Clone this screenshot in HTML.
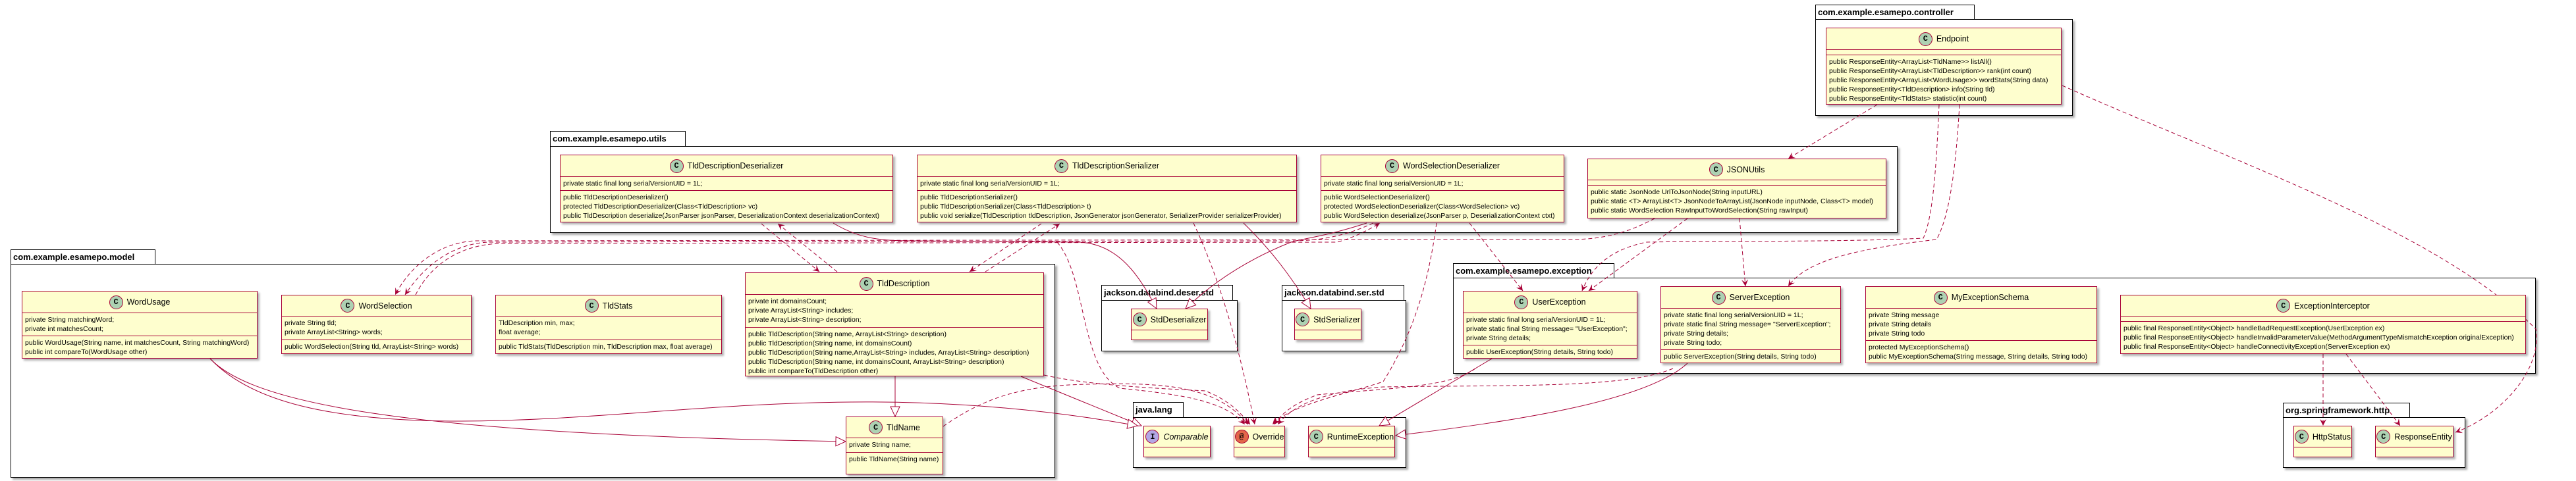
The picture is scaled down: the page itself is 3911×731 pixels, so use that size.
<!DOCTYPE html>
<html><head><meta charset="utf-8"><style>
*{margin:0;padding:0;box-sizing:border-box}
body{width:3911px;height:731px;background:#fff;position:relative;overflow:hidden;font-family:"Liberation Sans",sans-serif}
.pt{position:absolute;border:1.5px solid #000;border-bottom:none;background:#fff;font-weight:bold;font-size:13px;padding:3px 4px 0 3px;white-space:nowrap;z-index:1}
.pb{position:absolute;border:1.5px solid #000;background:#fff;box-shadow:3px 3px 3px rgba(0,0,0,.35);z-index:1}
svg{position:absolute;left:0;top:0;z-index:2}
.c{position:absolute;background:#FEFECE;border:1.5px solid #A80036;box-shadow:3px 3px 3px rgba(0,0,0,.3);z-index:3;font-size:10.5px;color:#000}
.h{display:flex;align-items:center;justify-content:center;border-bottom:1.5px solid #A80036;font-size:12.5px;white-space:nowrap}
.h i{display:inline-flex;width:21px;height:21px;border-radius:50%;background:#ADD1B2;border:1px solid #A80036;align-items:center;justify-content:center;font-style:normal;font-weight:bold;font-size:12px;margin-right:6px;font-family:"Liberation Mono",monospace}
.s{border-bottom:1.5px solid #A80036;padding:3px 4px;white-space:nowrap;line-height:14px}
.s:last-child{border-bottom:none}
</style></head><body>

<!-- packages -->
<div class="pt" style="left:2756px;top:7px;width:242px;height:23px">com.example.esamepo.controller</div>
<div class="pb" style="left:2756px;top:29px;width:391px;height:147px"></div>

<div class="pt" style="left:835px;top:199px;width:206px;height:24px">com.example.esamepo.utils</div>
<div class="pb" style="left:835px;top:222px;width:2046px;height:132px"></div>

<div class="pt" style="left:16px;top:379px;width:220px;height:23px">com.example.esamepo.model</div>
<div class="pb" style="left:16px;top:401px;width:1586px;height:325px"></div>

<div class="pt" style="left:1672px;top:433px;width:200px;height:24px">jackson.databind.deser.std</div>
<div class="pb" style="left:1672px;top:456px;width:207px;height:78px"></div>

<div class="pt" style="left:1946px;top:433px;width:186px;height:24px">jackson.databind.ser.std</div>
<div class="pb" style="left:1946px;top:456px;width:189px;height:78px"></div>

<div class="pt" style="left:1720px;top:611px;width:77px;height:24px">java.lang</div>
<div class="pb" style="left:1720px;top:634px;width:415px;height:77px"></div>

<div class="pt" style="left:2206px;top:400px;width:245px;height:23px">com.example.esamepo.exception</div>
<div class="pb" style="left:2206px;top:422px;width:1644px;height:146px"></div>

<div class="pt" style="left:3466px;top:612px;width:193px;height:23px">org.springframework.http</div>
<div class="pb" style="left:3466px;top:634px;width:277px;height:77px"></div>

<!-- edges -->
<svg width="3911" height="731" viewBox="0 0 3911 731">
<defs>
<marker id="a" markerWidth="12" markerHeight="12" refX="10" refY="6" orient="auto" markerUnits="userSpaceOnUse"><path d="M0,1 L10,6 L0,11 L4,6 Z" fill="#A80036"/></marker>
<marker id="t" markerWidth="18" markerHeight="16" refX="16" refY="8" orient="auto" markerUnits="userSpaceOnUse"><path d="M1,1 L16,8 L1,15 Z" fill="#fff" stroke="#A80036" stroke-width="1"/></marker>
</defs>
<g fill="none" stroke="#A80036" stroke-width="1">
<!-- solid extends -->
<path d="M1265,339 C1300,360 1330,366 1380,366 L1640,368 C1700,372 1730,420 1756,469" marker-end="url(#t)"/>
<path d="M1888,339 C1930,380 1960,420 1990,469" marker-end="url(#t)"/>
<path d="M2075,339 C2010,360 1980,362 1960,368 C1880,400 1830,440 1800,469" marker-end="url(#t)"/>
<path d="M1359,572 L1359,633" marker-end="url(#t)"/>
<path d="M1550,572 L1733,647" marker-end="url(#t)"/>
<path d="M319,545 C380,610 500,640 700,640 C1000,640 1300,570 1727,647" marker-end="url(#t)"/>
<path d="M319,545 C380,610 600,660 1284,671" marker-end="url(#t)"/>
<path d="M2265,545 L2094,647" marker-end="url(#t)"/>
<path d="M2562,552 C2500,610 2300,640 2119,662" marker-end="url(#t)"/>
</g>
<g fill="none" stroke="#A80036" stroke-width="1" stroke-dasharray="6,4">
<path d="M1156,340 L1244,413" marker-end="url(#a)"/>
<path d="M1271,413 L1181,340" marker-end="url(#a)"/>
<path d="M1581,340 L1472,413" marker-end="url(#a)"/>
<path d="M1496,413 L1609,340" marker-end="url(#a)"/>
<path d="M2512,332 C2460,360 2420,364 2380,364 L720,366 C660,370 620,410 600,448" marker-end="url(#a)"/>
<path d="M2085,339 C2040,360 2000,366 1960,366 L740,368 C680,372 640,410 615,448" marker-end="url(#a)"/>
<path d="M631,448 C650,410 690,372 760,370 L2030,368 C2060,360 2085,345 2095,339" marker-end="url(#a)"/>
<path d="M1812,339 C1850,420 1880,520 1905,645" marker-end="url(#a)"/>
<path d="M1605,368 C1650,420 1640,560 1700,590 C1800,600 1860,610 1890,645" marker-end="url(#a)"/>
<path d="M1432,648 C1500,600 1560,586 1650,584 C1780,580 1850,590 1895,645" marker-end="url(#a)"/>
<path d="M1585,570 C1650,585 1750,590 1830,594 C1870,610 1885,630 1898,645" marker-end="url(#a)"/>
<path d="M2181,339 C2170,420 2150,500 2100,580 C2040,600 1960,615 1932,645" marker-end="url(#a)"/>
<path d="M2240,560 C2200,590 2100,590 2000,600 C1960,615 1945,630 1935,645" marker-end="url(#a)"/>
<path d="M2540,560 C2470,590 2300,585 2100,588 C2000,595 1960,620 1940,645" marker-end="url(#a)"/>
<path d="M2231,339 L2312,442" marker-end="url(#a)"/>
<path d="M2562,332 L2412,442" marker-end="url(#a)"/>
<path d="M2641,332 L2650,435" marker-end="url(#a)"/>
<path d="M2850,159 L2715,241" marker-end="url(#a)"/>
<path d="M2944,159 C2940,250 2935,330 2920,362 C2800,368 2600,366 2500,368 C2440,380 2415,410 2402,442" marker-end="url(#a)"/>
<path d="M2975,159 C2970,250 2960,330 2940,364 C2800,380 2740,400 2715,435" marker-end="url(#a)"/>
<path d="M3131,130 C3400,250 3700,350 3850,500 C3860,560 3800,630 3728,657" marker-end="url(#a)"/>
<path d="M3527,538 L3527,647" marker-end="url(#a)"/>
<path d="M3562,538 L3644,647" marker-end="url(#a)"/>
</g>
</svg>

<!-- classes -->
<div class="c" style="left:2772px;top:42px;width:358px;height:117px">
<div class="h" style="height:33px"><i>C</i>Endpoint</div>
<div class="s" style="height:8px;padding:0"></div>
<div class="s">public ResponseEntity&lt;ArrayList&lt;TldName&gt;&gt; listAll()<br>public ResponseEntity&lt;ArrayList&lt;TldDescription&gt;&gt; rank(int count)<br>public ResponseEntity&lt;ArrayList&lt;WordUsage&gt;&gt; wordStats(String data)<br>public ResponseEntity&lt;TldDescription&gt; info(String tld)<br>public ResponseEntity&lt;TldStats&gt; statistic(int count)</div>
</div>

<div class="c" style="left:850px;top:235px;width:506px;height:103px">
<div class="h" style="height:33px"><i>C</i>TldDescriptionDeserializer</div>
<div class="s" style="height:21px">private static final long serialVersionUID = 1L;</div>
<div class="s">public TldDescriptionDeserializer()<br>protected TldDescriptionDeserializer(Class&lt;TldDescription&gt; vc)<br>public TldDescription deserialize(JsonParser jsonParser, DeserializationContext deserializationContext)</div>
</div>

<div class="c" style="left:1392px;top:235px;width:577px;height:103px">
<div class="h" style="height:33px"><i>C</i>TldDescriptionSerializer</div>
<div class="s" style="height:21px">private static final long serialVersionUID = 1L;</div>
<div class="s">public TldDescriptionSerializer()<br>public TldDescriptionSerializer(Class&lt;TldDescription&gt; t)<br>public void serialize(TldDescription tldDescription, JsonGenerator jsonGenerator, SerializerProvider serializerProvider)</div>
</div>

<div class="c" style="left:2005px;top:235px;width:370px;height:103px">
<div class="h" style="height:33px"><i>C</i>WordSelectionDeserializer</div>
<div class="s" style="height:21px">private static final long serialVersionUID = 1L;</div>
<div class="s">public WordSelectionDeserializer()<br>protected WordSelectionDeserializer(Class&lt;WordSelection&gt; vc)<br>public WordSelection deserialize(JsonParser p, DeserializationContext ctxt)</div>
</div>

<div class="c" style="left:2410px;top:241px;width:454px;height:91px">
<div class="h" style="height:32px"><i>C</i>JSONUtils</div>
<div class="s" style="height:8px;padding:0"></div>
<div class="s">public static JsonNode UrlToJsonNode(String inputURL)<br>public static &lt;T&gt; ArrayList&lt;T&gt; JsonNodeToArrayList(JsonNode inputNode, Class&lt;T&gt; model)<br>public static WordSelection RawInputToWordSelection(String rawInput)</div>
</div>

<div class="c" style="left:33px;top:442px;width:358px;height:103px">
<div class="h" style="height:33px"><i>C</i>WordUsage</div>
<div class="s" style="height:35px">private String matchingWord;<br>private int matchesCount;</div>
<div class="s">public WordUsage(String name, int matchesCount, String matchingWord)<br>public int compareTo(WordUsage other)</div>
</div>

<div class="c" style="left:427px;top:448px;width:289px;height:90px">
<div class="h" style="height:32px"><i>C</i>WordSelection</div>
<div class="s" style="height:36px">private String tld;<br>private ArrayList&lt;String&gt; words;</div>
<div class="s">public WordSelection(String tld, ArrayList&lt;String&gt; words)</div>
</div>

<div class="c" style="left:752px;top:448px;width:344px;height:90px">
<div class="h" style="height:32px"><i>C</i>TldStats</div>
<div class="s" style="height:36px">TldDescription min, max;<br>float average;</div>
<div class="s">public TldStats(TldDescription min, TldDescription max, float average)</div>
</div>

<div class="c" style="left:1131px;top:414px;width:454px;height:158px">
<div class="h" style="height:33px"><i>C</i>TldDescription</div>
<div class="s" style="height:50px">private int domainsCount;<br>private ArrayList&lt;String&gt; includes;<br>private ArrayList&lt;String&gt; description;</div>
<div class="s">public TldDescription(String name, ArrayList&lt;String&gt; description)<br>public TldDescription(String name, int domainsCount)<br>public TldDescription(String name,ArrayList&lt;String&gt; includes, ArrayList&lt;String&gt; description)<br>public TldDescription(String name, int domainsCount, ArrayList&lt;String&gt; description)<br>public int compareTo(TldDescription other)</div>
</div>

<div class="c" style="left:1284px;top:633px;width:148px;height:88px">
<div class="h" style="height:32px"><i>C</i>TldName</div>
<div class="s" style="height:22px">private String name;</div>
<div class="s">public TldName(String name)</div>
</div>

<div class="c" style="left:1717px;top:469px;width:117px;height:48px">
<div class="h" style="height:32px;border-bottom:1.5px solid #A80036"><i>C</i>StdDeserializer</div>
<div class="s" style="height:8px;padding:0"></div>
</div>
<div class="c" style="left:1965px;top:469px;width:102px;height:48px">
<div class="h" style="height:32px"><i>C</i>StdSerializer</div>
<div class="s" style="height:8px;padding:0"></div>
</div>

<div class="c" style="left:1736px;top:647px;width:102px;height:48px">
<div class="h" style="height:32px;font-style:italic"><i style="background:#B4A7E5">I</i>Comparable</div>
<div class="s" style="height:8px;padding:0"></div>
</div>
<div class="c" style="left:1873px;top:647px;width:78px;height:48px">
<div class="h" style="height:32px"><i style="background:#E3664A">@</i>Override</div>
<div class="s" style="height:8px;padding:0"></div>
</div>
<div class="c" style="left:1986px;top:647px;width:132px;height:48px">
<div class="h" style="height:32px"><i>C</i>RuntimeException</div>
<div class="s" style="height:8px;padding:0"></div>
</div>

<div class="c" style="left:2221px;top:442px;width:265px;height:103px">
<div class="h" style="height:33px"><i>C</i>UserException</div>
<div class="s" style="height:49px">private static final long serialVersionUID = 1L;<br>private static final String message= "UserException";<br>private String details;</div>
<div class="s">public UserException(String details, String todo)</div>
</div>

<div class="c" style="left:2521px;top:435px;width:274px;height:117px">
<div class="h" style="height:33px"><i>C</i>ServerException</div>
<div class="s" style="height:63px">private static final long serialVersionUID = 1L;<br>private static final String message= "ServerException";<br>private String details;<br>private String todo;</div>
<div class="s">public ServerException(String details, String todo)</div>
</div>

<div class="c" style="left:2832px;top:435px;width:352px;height:117px">
<div class="h" style="height:33px"><i>C</i>MyExceptionSchema</div>
<div class="s" style="height:49px">private String message<br>private String details<br>private String todo</div>
<div class="s">protected MyExceptionSchema()<br>public MyExceptionSchema(String message, String details, String todo)</div>
</div>

<div class="c" style="left:3219px;top:448px;width:616px;height:90px">
<div class="h" style="height:32px"><i>C</i>ExceptionInterceptor</div>
<div class="s" style="height:8px;padding:0"></div>
<div class="s">public final ResponseEntity&lt;Object&gt; handleBadRequestException(UserException ex)<br>public final ResponseEntity&lt;Object&gt; handleInvalidParameterValue(MethodArgumentTypeMismatchException originalException)<br>public final ResponseEntity&lt;Object&gt; handleConnectivityException(ServerException ex)</div>
</div>

<div class="c" style="left:3482px;top:647px;width:89px;height:48px">
<div class="h" style="height:32px"><i>C</i>HttpStatus</div>
<div class="s" style="height:8px;padding:0"></div>
</div>
<div class="c" style="left:3606px;top:647px;width:119px;height:48px">
<div class="h" style="height:32px"><i>C</i>ResponseEntity</div>
<div class="s" style="height:8px;padding:0"></div>
</div>

</body></html>
